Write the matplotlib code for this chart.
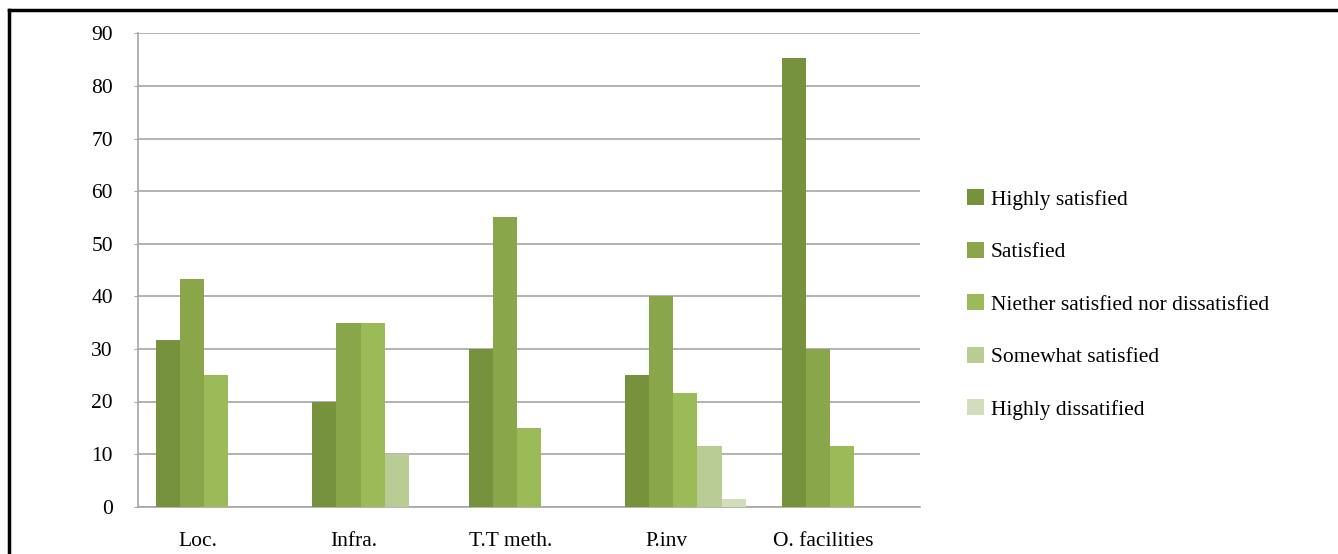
import numpy as np
import matplotlib.pyplot as plt
from matplotlib.lines import Line2D
from matplotlib.patches import Patch

plt.rcParams['font.family'] = 'Liberation Serif'

# Satisfaction survey results per factor
categories = ['Loc.', 'Infra.', 'T.T meth.', 'P.inv', 'O. facilities']
series = ['Highly satisfied', 'Satisfied', 'Niether satisfied nor dissatisfied',
          'Somewhat satisfied', 'Highly dissatified']
highly_satisfied = [31.7, 20, 30, 25, 85.3]
satisfied = [43.3, 35, 55, 40, 30]
neither = [25, 35, 15, 21.7, 11.6]
somewhat = [0, 10, 0, 11.5, 0]
highly_dissatisfied = [0, 0, 0, 1.5, 0]
values = [highly_satisfied, satisfied, neither, somewhat, highly_dissatisfied]
colors = ['#76923C', '#8AA64B', '#9BBB59', '#B8CC93', '#D2DDBC']

fig = plt.figure(figsize=(13.38, 5.54), dpi=100)
ax = fig.add_axes([138 / 1338, 1 - 506.7 / 554, 782 / 1338, 473.4 / 554])

bar_w = 0.154
offset = 0.115
x = np.arange(len(categories))
for k, (vals, col) in enumerate(zip(values, colors)):
    ax.bar(x + offset + k * bar_w, vals, width=bar_w, align='edge',
           color=col, edgecolor='none', zorder=3)

ax.set_xlim(0, len(categories))
ax.set_ylim(0, 90)
ax.set_yticks(range(0, 91, 10))
ax.yaxis.grid(True, color='#A6A6A6', linewidth=1.2, zorder=0)
ax.set_xticks(x + 0.38)
ax.set_xticklabels(categories)
ax.tick_params(axis='x', length=0, pad=18, labelsize=15.5)
ax.tick_params(axis='y', length=3, color='#A6A6A6', pad=15, labelsize=15.5)
for side in ['top', 'right']:
    ax.spines[side].set_visible(False)
for side in ['left', 'bottom']:
    ax.spines[side].set_color('#A6A6A6')
    ax.spines[side].set_linewidth(1.2)

handles = [Patch(facecolor=c, edgecolor='none') for c in colors]
fig.legend(handles, series, loc='upper left', bbox_to_anchor=(948 / 1338, 1 - 170 / 554),
           frameon=False, fontsize=15.5, handlelength=0.75, handleheight=0.75,
           handletextpad=0.35, labelspacing=1.49, borderpad=0.4)

# outer frame (top and left edges)
fig.add_artist(Line2D([9 / 1338, 1], [1 - 10 / 554, 1 - 10 / 554], color='black', linewidth=2.5))
fig.add_artist(Line2D([9 / 1338, 9 / 1338], [0, 1 - 10 / 554], color='black', linewidth=2.5))

fig.savefig('out.png', dpi=100)
